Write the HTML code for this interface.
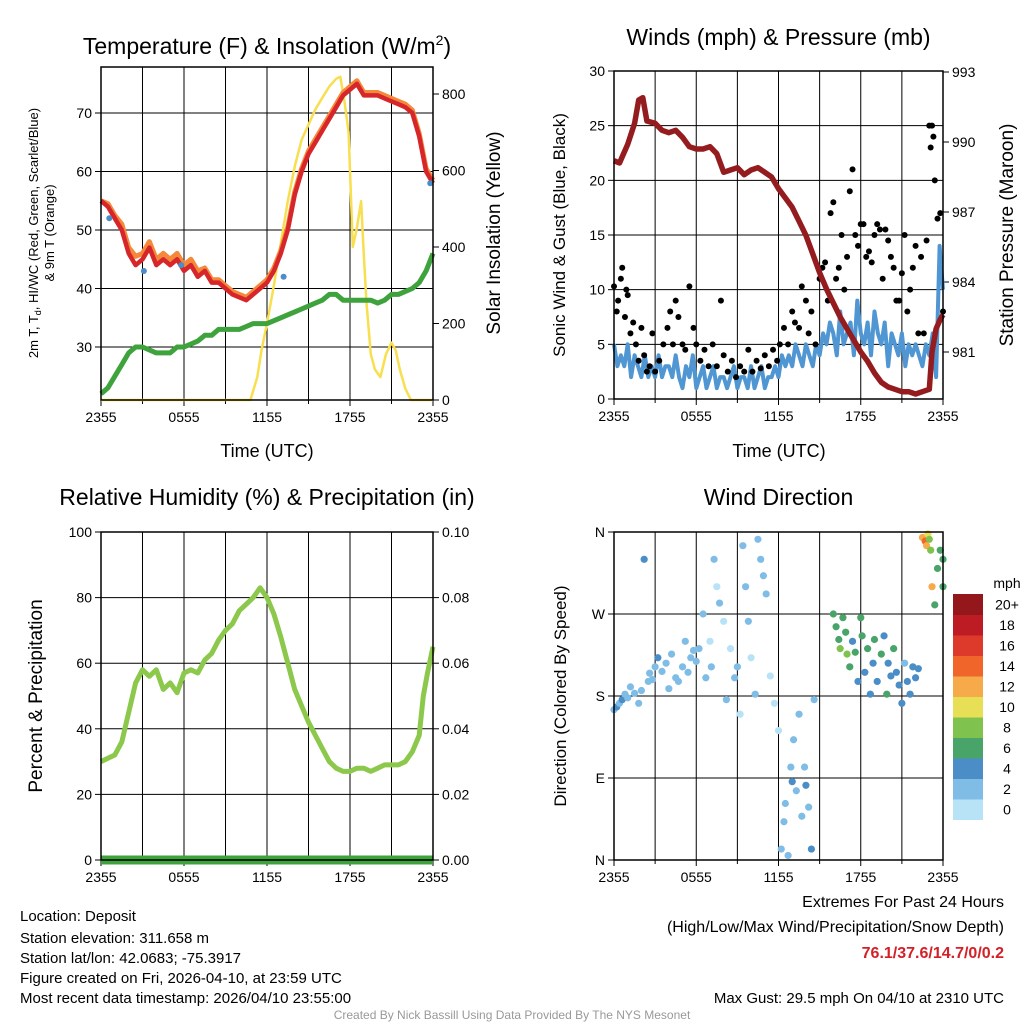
<!DOCTYPE html>
<html><head><meta charset="utf-8"><style>
body{margin:0;background:#fff;}
svg{display:block;font-family:"Liberation Sans",Arial,sans-serif;}
</style></head><body>
<svg id="svg" width="1024" height="1024" viewBox="0 0 1024 1024" xmlns="http://www.w3.org/2000/svg">
<g id="g1"></g>
<g id="g2"></g>
<g id="g3"></g>
<g id="g4"></g>
<g font-size="15" fill="#000">
<text x="20" y="921">Location: Deposit</text>
<text x="20" y="943">Station elevation: 311.658 m</text>
<text x="20" y="963">Station lat/lon: 42.0683; -75.3917</text>
<text x="20" y="983">Figure created on Fri, 2026-04-10, at 23:59 UTC</text>
<text x="20" y="1003">Most recent data timestamp: 2026/04/10 23:55:00</text>
<text x="1004" y="907" text-anchor="end" font-size="16">Extremes For Past 24 Hours</text>
<text x="1004" y="932" text-anchor="end" font-size="16">(High/Low/Max Wind/Precipitation/Snow Depth)</text>
<text x="1004" y="958" text-anchor="end" font-size="16" font-weight="bold" fill="#d42027">76.1/37.6/14.7/0/0.2</text>
<text x="1004" y="1003" text-anchor="end" font-size="15">Max Gust: 29.5 mph On 04/10 at 2310 UTC</text>
<text x="512" y="1019" text-anchor="middle" font-size="12" fill="#999">Created By Nick Bassill Using Data Provided By The NYS Mesonet</text>
</g>
</svg>
<script>
// ---------- DATA ----------
const xTickLabels = ["2355","0555","1155","1755","2355"];
const tempHours = [0,0.5,1,1.5,2,2.5,3,3.5,4,4.5,5,5.5,6,6.5,7,7.5,8,8.5,9,9.5,10,10.5,11,11.5,12,12.5,13,13.5,14,14.5,15,15.5,16,16.5,17,17.5,18,18.5,19,19.5,20,20.5,21,21.5,22,22.5,23,23.5,24];
const temp2m = [55,54,52,50,46,44,45,47,44,45,44,45,43,44,42,43,41,41,40,39,38.5,38,39,40,41,43,46,50,56,60,63,65,67,69,71,73,74,75,73,73,73,72.5,72,71.5,71,70,66,60,58];
const temp9m = [55,54.5,52.5,51,47,45.5,46,48,45,46,45,46,44,45,43,43.5,41.5,41.5,40.5,39.5,39,38.5,39.5,40.5,41.5,43.5,46.5,50.5,56.5,60.5,63.5,65.5,67.5,69.5,71.5,73.5,74.5,75.5,73.5,73.5,73.5,73,72.5,72,71.5,70.5,66.5,60.5,58.5];
const dewpoint = [22,23,25,27,29,30,30,29.5,29,29,29,30,30,30.5,31,32,32,33,33,33,33,33.5,34,34,34,34.5,35,35.5,36,36.5,37,37.5,38,39,39,38,38,38,38,38,37.5,38,39,39,39.5,40,41,43,46];
const hiwcHours = [0.6,3.1,5.8,13.2,23.8];
const hiwcValues = [52,43,44,42,58];
const solarHours = [0,10.8,11.3,11.6,12,12.5,13,13.5,14,14.5,15,15.5,16,16.5,17,17.3,17.6,17.9,18.2,18.5,18.8,19,19.2,19.5,19.8,20.2,20.6,21,21.3,21.6,22,22.4,23,24];
const solarValues = [0,0,60,130,200,300,410,520,610,680,720,760,790,820,840,845,780,700,400,450,520,380,250,120,80,60,120,150,130,80,30,0,0,0];

const presHours = [0,0.4,1,1.5,1.8,2.1,2.4,3,3.5,4,4.5,5,5.5,6,6.5,7,7.5,8,8.5,9,9.5,10,10.5,11,11.5,12,12.5,13,13.5,14,14.5,15,15.5,16,16.5,17,17.5,18,18.5,19,19.5,20,20.5,21,21.5,22,22.5,23,23.2,23.5,23.8,24];
const presValues = [989.2,989.1,989.9,990.8,991.8,991.9,990.9,990.8,990.5,990.4,990.5,990.2,989.8,989.7,989.7,989.8,989.5,988.7,988.8,988.9,988.6,988.8,988.9,988.7,988.5,988.0,987.6,987.2,986.6,986.0,985.2,984.4,983.7,983.1,982.5,982.0,981.5,981.0,980.6,980.1,979.7,979.5,979.4,979.3,979.3,979.2,979.3,979.4,981,982,982.4,982.6];
const windHours = [0,0.25,0.5,0.75,1,1.25,1.5,1.75,2,2.25,2.5,2.75,3,3.25,3.5,3.75,4,4.25,4.5,4.75,5,5.25,5.5,5.75,6,6.25,6.5,6.75,7,7.25,7.5,7.75,8,8.25,8.5,8.75,9,9.25,9.5,9.75,10,10.25,10.5,10.75,11,11.25,11.5,11.75,12,12.25,12.5,12.75,13,13.25,13.5,13.75,14,14.25,14.5,14.75,15,15.25,15.5,15.75,16,16.25,16.5,16.75,17,17.25,17.5,17.75,18,18.25,18.5,18.75,19,19.25,19.5,19.75,20,20.25,20.5,20.75,21,21.25,21.5,21.75,22,22.25,22.5,22.75,23,23.25,23.5,23.75,24];
const windValues = [5,3,4,3,5,2,4,3,2,4,2,3,2,4,2,3,3,2,4,2,1,3,2,4,1,2,3,1,2,3,1,2,2,1,2,3,1,2,2,1,3,1,2,3,1,2,2,3,2,4,3,4,3,5,4,3,5,4,3,5,4,6,5,7,6,4,8,5,6,7,4,9,6,5,7,4,8,6,5,7,3,6,5,4,6,3,5,4,5,4,3,5,4,6,2,14,10,5,7];
const gustHours = [0,0.2,0.3,0.5,0.6,0.8,0.9,1,1.2,1.4,1.6,1.8,2,2.2,2.4,2.6,2.8,3,3.3,3.6,3.9,4.1,4.3,4.5,4.7,5,5.2,5.5,5.8,6,6.3,6.6,6.9,7.2,7.5,7.8,8,8.3,8.6,8.9,9.2,9.5,9.8,10.1,10.4,10.7,11,11.3,11.6,11.9,12.1,12.4,12.7,13,13.2,13.5,13.7,14,14.2,14.4,14.7,15,15.2,15.4,15.6,15.8,16,16.2,16.4,16.6,16.8,17,17.2,17.4,17.6,17.8,18,18.2,18.4,18.6,18.8,19,19.2,19.4,19.6,19.8,20,20.2,20.4,20.6,20.8,21,21.2,21.4,21.6,21.8,22,22.2,22.4,22.6,22.8,23,23.1,23.2,23.3,23.4,23.6,23.8,24];
const gustValues = [10.3,8,9,11,12,7.5,10,9.5,6,7,5,3.5,6.5,4,2.5,3,6,2.5,3.5,5,6.5,8,5,9,7.5,5,4.5,10.3,6.5,5,3.5,4.5,3,5,3,9,4,2.5,3.5,2,3,2.5,4.5,2.5,3.5,2.8,4,3,4.5,3.5,5,6.5,5,8,7,6.5,10.3,9,6,8,5,11,12,12.5,9,17,18,11,12,15,10,13,19,21,15,14,16,16,13,13.5,12.5,15,16,15.5,11,15.5,14.5,13,12,9,9,11.5,15,8,10,12,14,6,13,6,14.5,25,23,25,24,20,16.5,17,8,12.5];
const dirHours = [0,0.2,0.4,0.6,0.8,1,1.2,1.5,1.8,2,2.2,2.5,2.6,2.8,3,3.2,3.5,3.8,4,4.2,4.5,4.7,5,5.2,5.4,5.6,5.8,6,6.2,6.5,6.7,7,7.1,7.3,7.5,7.7,8,8.2,8.5,8.8,9,9.2,9.4,9.6,9.8,10,10.3,10.5,10.7,10.9,11.1,11.4,11.7,12,12.2,12.4,12.5,12.7,12.9,13,13.1,13.3,13.5,13.7,13.9,14,14.2,14.4,14.6,16,16.2,16.4,16.5,16.7,16.9,17,17.2,17.4,17.6,17.8,18,18.1,18.3,18.5,18.7,18.9,19,19.2,19.5,19.7,19.9,20,20.2,20.4,20.6,20.8,21,21.2,21.4,21.6,21.8,22,22.2,22.5,22.7,22.8,22.9,23,23.1,23.2,23.4,23.6,23.8,24,24];
const dirValues = [165,168,172,176,182,178,190,183,172,186,330,196,205,198,212,222,207,216,188,226,200,196,212,240,206,222,230,218,232,270,200,240,212,330,300,282,262,176,232,200,212,160,345,300,262,222,182,352,330,312,292,202,172,142,12,42,62,5,102,86,132,76,160,48,102,82,58,12,176,270,256,242,232,266,250,226,212,240,228,196,266,246,206,232,182,216,242,196,226,246,182,216,202,232,206,192,172,216,196,182,212,200,210,354,350,345,358,352,340,300,280,320,340,330,300];
const dirSpeeds = [3,4,3,4,3,3,2,3,2,2,4,2,3,2,3,4,2,3,3,2,3,2,2,3,2,2,2,3,2,2,2,1,2,3,1,2,1,2,1,2,2,1,2,3,2,1,2,3,3,3,2,1,1,1,2,3,3,2,3,4,3,3,3,3,3,4,3,4,3,6,7,6,8,7,6,8,6,5,7,4,6,7,4,6,4,5,6,4,6,4,6,5,4,6,4,4,4,3,4,4,5,4,5,12,14,13,10,9,8,13,6,7,6,7,6];
const rhHours = [0,0.5,1,1.5,2,2.5,3,3.5,4,4.5,5,5.5,6,6.5,7,7.5,8,8.5,9,9.5,10,10.5,11,11.5,12,12.5,13,13.5,14,14.5,15,15.5,16,16.5,17,17.5,18,18.5,19,19.5,20,20.5,21,21.5,22,22.5,23,23.3,23.6,24];
const rhValues = [30,31,32,36,45,54,58,56,58,52,54,51,57,58,57,61,63,67,70,72,76,78,80,83,80,75,68,60,52,47,42,38,34,30,28,27,27,28,28,27,28,29,29,29,30,33,38,50,57,65];
const precipValues = [0,0];
const precipHours = [0,24];
const speedBins = ["0","2","4","6","8","10","12","14","16","18","20+"];
const speedColors = ["#b8e3f7","#80bde6","#4a8dc7","#49a46a","#7fc24d","#e7e057","#f7aa49","#ef652a","#de3a2b","#bd1c24","#93171b"];

// ---------- HELPERS ----------
const NS="http://www.w3.org/2000/svg";
function mk(parent,tag,attrs){const e=document.createElementNS(NS,tag);for(const k in attrs)e.setAttribute(k,attrs[k]);parent.appendChild(e);return e;}
function lin(d0,d1,r0,r1){return v=>r0+(v-d0)*(r1-r0)/(d1-d0);}
function linePath(xs,ys,fx,fy){return xs.map((h,i)=>(i?'L':'M')+fx(h).toFixed(1)+','+fy(ys[i]).toFixed(1)).join('');}

function frame(g,L,R,T,B,title,titleY){
  const fx=lin(0,24,L,R);
  for(let h=3;h<24;h+=3){const gl=mk(g,'line',{x1:fx(h),x2:fx(h),y1:T,y2:B,stroke:'#000','stroke-width':1});
    }
  xTickLabels.forEach((s,i)=>{const x=fx(i*6);
    const tk=mk(g,'line',{x1:x,x2:x,y1:B,y2:B+6,stroke:'#000'});
    
    const t=mk(g,'text',{x:x,y:B+22,'text-anchor':'middle','font-size':14});t.textContent=s;
    });
  for(let h=3;h<24;h+=6){const tk=mk(g,'line',{x1:fx(h),x2:fx(h),y1:B,y2:B+4,stroke:'#000'});
    }
  const tt=mk(g,'text',{x:(L+R)/2,y:titleY,'text-anchor':'middle','font-size':23});tt.innerHTML=title;
  
  return fx;
}
function yAxis(g,L,R,fy,vals,labels,side,gridlines,minorStep){
  vals.forEach((v,i)=>{const y=fy(v);
    if(gridlines){const gl=mk(g,'line',{x1:L,x2:R,y1:y,y2:y,stroke:'#000'});}
    const x=side==='L'?L:R;
    const tk=mk(g,'line',{x1:x,x2:side==='L'?x-6:x+6,y1:y,y2:y,stroke:'#000'});
    
    const t=mk(g,'text',{x:side==='L'?x-9:x+9,y:y+5,'text-anchor':side==='L'?'end':'start','font-size':14});t.textContent=labels[i];
    });
}
function box(g,L,R,T,B){const r=mk(g,'rect',{x:L,y:T,width:R-L,height:B-T,fill:'none',stroke:'#000','stroke-width':1.5});
  }
function vtext(g,x,y,s,size,name){const t=mk(g,'text',{x:x,y:y,'text-anchor':'middle','font-size':size,transform:`rotate(-90 ${x} ${y})`});t.innerHTML=s;
  return t;}
function xtitle(g,x,y){const t=mk(g,'text',{x:x,y:y,'text-anchor':'middle','font-size':18});t.textContent='Time (UTC)';
  }

// ---------- PANEL 1 ----------
(function(){const g=document.getElementById('g1');const L=101,R=433,T=67,B=400;
 const fx=frame(g,L,R,T,B,'Temperature (F) &amp; Insolation (W/m<tspan font-size="14" dy="-9">2</tspan><tspan dy="9">)</tspan>',54);
 const fy=lin(30,70,347,113);const fs=lin(0,800,400,94);
 yAxis(g,L,R,fy,[30,40,50,60,70],['30','40','50','60','70'],'L',true);
 yAxis(g,L,R,fs,[0,200,400,600,800],['0','200','400','600','800'],'R',false);
 let p=mk(g,'path',{d:linePath(solarHours,solarValues,fx,fs),fill:'none',stroke:'#f8df4f','stroke-width':2.5,'stroke-linejoin':'round'});
 
 p=mk(g,'path',{d:linePath(tempHours,dewpoint,fx,fy),fill:'none',stroke:'#3fa33d','stroke-width':5,'stroke-linejoin':'round'});
 
 p=mk(g,'path',{d:linePath(tempHours,temp9m,fx,fy),fill:'none',stroke:'#f5883a','stroke-width':5,'stroke-linejoin':'round'});
 
 p=mk(g,'path',{d:linePath(tempHours,temp2m,fx,fy),fill:'none',stroke:'#d6262a','stroke-width':4.5,'stroke-linejoin':'round'});
 
 hiwcHours.forEach((h,i)=>{const c=mk(g,'circle',{cx:fx(h),cy:fy(hiwcValues[i]),r:3,fill:'#4a8dc7'});
   });
 box(g,L,R,T,B);
 vtext(g,38,233,'2m T, T<tspan font-size="9" dy="3">d</tspan><tspan dy="-3">, HI/WC (Red, Green, Scarlet/Blue)</tspan>',13,'y-axis-title');
 vtext(g,54,233,'&amp; 9m T (Orange)',13,'y-axis-title-line2');
 vtext(g,500,233,'Solar Insolation (Yellow)',19,'y2-axis-title');
 xtitle(g,267,457);})();

// ---------- PANEL 2 ----------
(function(){const g=document.getElementById('g2');const L=614,R=943,T=71,B=399;
 const fx=frame(g,L,R,T,B,'Winds (mph) &amp; Pressure (mb)',45);
 const fy=lin(0,30,B,T);const fp=lin(981,993,352,72);
 yAxis(g,L,R,fy,[0,5,10,15,20,25,30],['0','5','10','15','20','25','30'],'L',true);
 yAxis(g,L,R,fp,[981,984,987,990,993],['981','984','987','990','993'],'R',false);
 let p=mk(g,'path',{d:linePath(windHours,windValues,fx,fy),fill:'none',stroke:'#4f96d2','stroke-width':4,'stroke-linejoin':'round'});
 
 gustHours.forEach((h,i)=>{const c=mk(g,'circle',{cx:fx(h),cy:fy(gustValues[i]),r:3,fill:'#000'});
   });
 p=mk(g,'path',{d:linePath(presHours,presValues,fx,fp),fill:'none',stroke:'#951c1e','stroke-width':5.5,'stroke-linejoin':'round'});
 
 box(g,L,R,T,B);
 vtext(g,565,235,'Sonic Wind &amp; Gust (Blue, Black)',17,'y-axis-title');
 vtext(g,1013,235,'Station Pressure (Maroon)',19,'y2-axis-title');
 xtitle(g,779,457);})();

// ---------- PANEL 3 ----------
(function(){const g=document.getElementById('g3');const L=101,R=433,T=532,B=860;
 const fx=frame(g,L,R,T,B,'Relative Humidity (%) &amp; Precipitation (in)',505);
 const fy=lin(0,100,B,T);const fq=lin(0,0.1,B,T);
 yAxis(g,L,R,fy,[0,20,40,60,80,100],['0','20','40','60','80','100'],'L',true);
 yAxis(g,L,R,fq,[0,0.02,0.04,0.06,0.08,0.1],['0.00','0.02','0.04','0.06','0.08','0.10'],'R',false);
 let p=mk(g,'path',{d:linePath(rhHours,rhValues,fx,fy),fill:'none',stroke:'#8cc84b','stroke-width':5,'stroke-linejoin':'round'});
 
 p=mk(g,'path',{d:linePath(precipHours,precipValues,fx,fq),fill:'none',stroke:'#3fa33d','stroke-width':9});
 
 box(g,L,R,T,B);
 vtext(g,42,696,'Percent &amp; Precipitation',19,'y-axis-title');})();

// ---------- PANEL 4 ----------
(function(){const g=document.getElementById('g4');const L=614,R=943,T=532,B=860;
 const fx=frame(g,L,R,T,B,'Wind Direction',505);
 const fy=lin(0,360,B,T);
 yAxis(g,L,R,fy,[0,90,180,270,360],['N','E','S','W','N'],'L',true);
 dirHours.forEach((h,i)=>{const s=dirSpeeds[i];const bi=Math.min(10,Math.floor(s/2));
   const c=mk(g,'circle',{cx:fx(h),cy:fy(dirValues[i]),r:3.6,fill:speedColors[bi]});
   });
 box(g,L,R,T,B);
 vtext(g,566,696,'Direction (Colored By Speed)',17,'y-axis-title');
 const cb=mk(g,'g',{});
 const ut=mk(cb,'text',{x:1007,y:588,'text-anchor':'middle','font-size':14});ut.textContent='mph';
 
 const h=20.5,top=594;
 speedBins.forEach((lab,i)=>{const y=top+(10-i)*h;
   const r=mk(cb,'rect',{x:953,y:y,width:30,height:h+0.5,fill:speedColors[i]});
   
   const t=mk(cb,'text',{x:1007,y:y+h/2+5,'text-anchor':'middle','font-size':14});t.textContent=lab;
   });})();
</script>
</body></html>
